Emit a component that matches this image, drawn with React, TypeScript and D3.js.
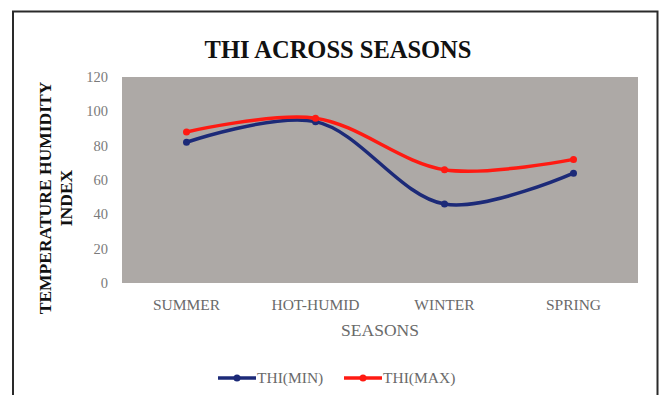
import React from "react";
import * as d3 from "d3";

const seasons = ["SUMMER", "HOT-HUMID", "WINTER", "SPRING"];
const thiMin = [82, 94, 46, 64];
const thiMax = [88, 96, 66, 72];
const yTicks = [0, 20, 40, 60, 80, 100, 120];
const seriesNames = ["THI(MIN)", "THI(MAX)"];
const seriesColors = ["#1c2a78", "#ff1a12"];

const W = 660;
const H = 395;
const plot = { left: 122, top: 77, right: 638, bottom: 283 };
const FONT = "'Liberation Serif', 'DejaVu Serif', serif";

export default function App() {
  const x = d3
    .scaleBand<string>()
    .domain(seasons)
    .range([plot.left, plot.right])
    .padding(0);
  const y = d3.scaleLinear().domain([0, 120]).range([plot.bottom, plot.top]);
  const cx = (s: string) => (x(s) as number) + x.bandwidth() / 2;

  const line = d3
    .line<number>()
    .x((_, i) => cx(seasons[i]))
    .y((d) => y(d))
    .curve(d3.curveCatmullRom.alpha(0.5));

  const series = [thiMin, thiMax];

  return (
    <svg
      width={W}
      height={H}
      style={{ position: "absolute", left: 0, top: 0, background: "#fff" }}
    >
      <rect x={0} y={0} width={W} height={H} fill="#fff" />
      {/* outer frame */}
      <rect
        x={13}
        y={11.5}
        width={644.5}
        height={H + 20}
        fill="none"
        stroke="#2a2a2a"
        strokeWidth={2}
      />
      {/* title */}
      <text
        x={338}
        y={58}
        textAnchor="middle"
        fontFamily={FONT}
        fontWeight="bold"
        fontSize={24.5}
        fill="#111"
      >
        THI ACROSS SEASONS
      </text>
      {/* plot area */}
      <rect
        x={plot.left}
        y={plot.top}
        width={plot.right - plot.left}
        height={plot.bottom - plot.top}
        fill="#ada9a6"
      />
      {/* y ticks */}
      {yTicks.map((t) => (
        <text
          key={t}
          x={108}
          y={y(t) + 5}
          textAnchor="end"
          fontFamily={FONT}
          fontSize={14.5}
          fill="#7a7a7a"
        >
          {t}
        </text>
      ))}
      {/* x labels */}
      {seasons.map((s) => (
        <text
          key={s}
          x={cx(s)}
          y={310}
          textAnchor="middle"
          fontFamily={FONT}
          fontSize={15.5}
          fill="#6a6a6a"
        >
          {s}
        </text>
      ))}
      <text
        x={(plot.left + plot.right) / 2}
        y={336}
        textAnchor="middle"
        fontFamily={FONT}
        fontSize={17.5}
        fill="#6a6a6a"
      >
        SEASONS
      </text>
      {/* y axis title */}
      <g transform="translate(51,198) rotate(-90)">
        <text
          x={0}
          y={0}
          textAnchor="middle"
          fontFamily={FONT}
          fontWeight="bold"
          fontSize={17.5}
          fill="#111"
        >
          TEMPERATURE HUMIDITY
        </text>
        <text
          x={0}
          y={21}
          textAnchor="middle"
          fontFamily={FONT}
          fontWeight="bold"
          fontSize={17.5}
          fill="#111"
        >
          INDEX
        </text>
      </g>
      {/* lines */}
      {series.map((vals, si) => (
        <g key={si}>
          <path
            d={line(vals) || ""}
            fill="none"
            stroke={seriesColors[si]}
            strokeWidth={3.5}
            strokeLinecap="round"
          />
          {vals.map((v, i) => (
            <circle
              key={i}
              cx={cx(seasons[i])}
              cy={y(v)}
              r={3.5}
              fill={seriesColors[si]}
            />
          ))}
        </g>
      ))}
      {/* legend */}
      {seriesNames.map((n, i) => {
        const lx = 218 + i * 126;
        return (
          <g key={n}>
            <line
              x1={lx}
              x2={lx + 38}
              y1={378}
              y2={378}
              stroke={seriesColors[i]}
              strokeWidth={3.5}
            />
            <circle cx={lx + 19} cy={378} r={3.5} fill={seriesColors[i]} />
            <text
              x={lx + 39}
              y={383}
              fontFamily={FONT}
              fontSize={15.5}
              fill="#6a6a6a"
            >
              {n}
            </text>
          </g>
        );
      })}
    </svg>
  );
}
